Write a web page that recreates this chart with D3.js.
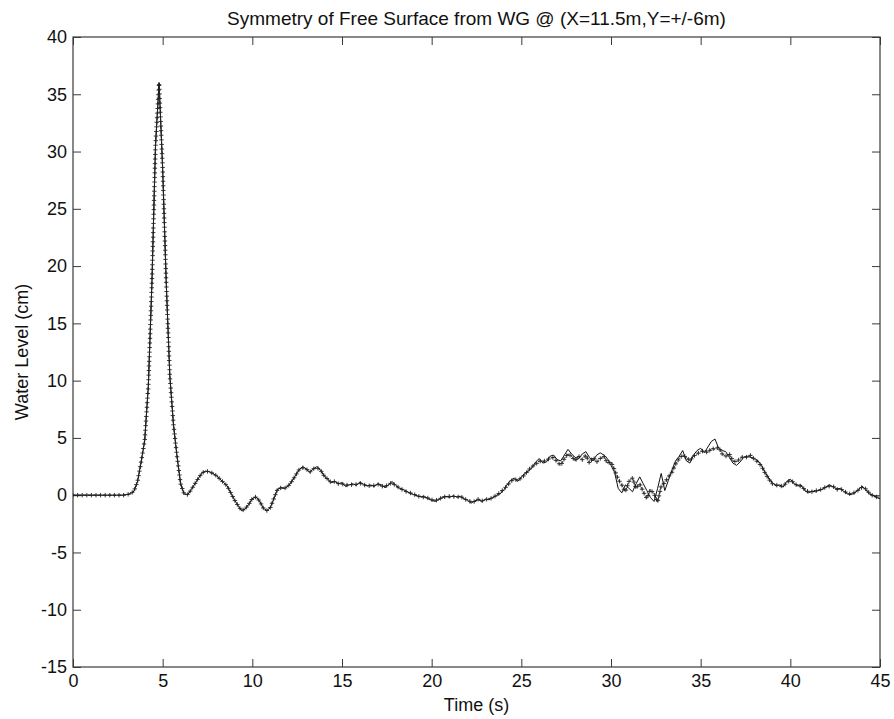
<!DOCTYPE html>
<html>
<head>
<meta charset="utf-8">
<script src="https://cdn.jsdelivr.net/npm/d3@7/dist/d3.min.js"></script>
<style>
  html, body { margin: 0; padding: 0; background: #fff; }
  svg { display: block; font-family: "Liberation Sans", Arial, Helvetica, sans-serif; }
</style>
</head>
<body>
<svg id="chart" width="894" height="719"></svg>
<script>
// Sampling instants (s), one every 0.2 s from 0 to 45
const timeStep = 0.2;
const sampleCount = 226;

// Water level (cm) at the gauge on the +Y side, drawn as a solid line
const gaugePlus = [
  // 0.0 – 4.8 s
  0, 0, 0, 0, 0, 0, 0, 0, 0, 0, 0, 0, 0, 0, 0,
  0.05, 0.12, 0.35, 1.2, 2.9, 4.8, 9.5, 18.5, 30.5, 36.0,
  // 5.0 – 9.8 s
  28.5, 18.5, 10.4, 6.2, 3.4, 1.0, 0.1, 0.05, 0.5, 1.0, 1.5, 1.95, 2.1,
  2.05, 1.9, 1.7, 1.4, 1.1, 0.8, 0.2, -0.4, -0.9, -1.35, -1.2, -0.8,
  // 10.0 – 14.8 s
  -0.3, -0.15, -0.5, -1.1, -1.35, -1.1, -0.3, 0.5, 0.65, 0.6, 0.8, 1.2, 1.7,
  2.2, 2.5, 2.3, 2.0, 2.3, 2.5, 2.2, 1.7, 1.4, 1.1, 1.2, 1.0,
  // 15.0 – 19.8 s
  1.1, 0.75, 0.9, 1.0, 0.85, 1.15, 0.95, 0.8, 0.9, 0.75, 1.0, 0.9, 0.65,
  0.9, 1.2, 0.85, 0.6, 0.5, 0.35, 0.15, 0.05, -0.05, -0.15, -0.1, -0.3,
  // 20.0 – 24.8 s
  -0.45, -0.55, -0.35, -0.2, -0.1, -0.2, -0.05, -0.15, -0.1, -0.3, -0.45, -0.7, -0.5,
  -0.4, -0.55, -0.35, -0.4, -0.2, -0.05, 0.1, 0.4, 0.9, 1.3, 1.5, 1.2,
  // 25.0 – 29.8 s
  1.6, 1.9, 2.1, 2.4, 2.9, 3.2, 2.8, 2.9, 3.4, 3.5, 3.1, 3.0, 3.5,
  4.0, 3.6, 3.3, 3.2, 3.6, 3.8, 3.3, 3.0, 3.5, 3.7, 3.5, 3.2,
  // 30.0 – 34.8 s
  2.6, 2.0, 0.6, 0.2, 0.9, 0.6, 0.3, 1.0, 1.6, 1.0, 0.4, -0.2, -0.55,
  0.6, 1.9, 0.4, 1.3, 2.2, 3.0, 3.4, 3.9, 3.0, 2.8, 3.5, 3.9,
  // 35.0 – 39.8 s
  4.1, 3.7, 4.2, 4.7, 4.9, 4.1, 3.9, 3.8, 3.3, 2.8, 2.6, 2.9, 3.3,
  3.4, 3.3, 3.2, 3.0, 2.6, 2.0, 1.5, 1.1, 0.8, 0.9, 0.7, 1.2,
  // 40.0 – 45.0 s
  1.4, 1.0, 0.85, 0.9, 0.4, 0.2, 0.35, 0.3, 0.45, 0.5, 0.75, 0.9, 0.7,
  0.55, 0.6, 0.3, 0.1, 0.05, 0.2, 0.5, 0.8, 0.5, 0.1, 0.0, -0.2, -0.3
];

// Water level (cm) at the gauge on the -Y side, drawn dashed with + markers
const gaugeMinus = [
  // 0.0 – 4.8 s
  0, 0, 0, 0, 0, 0, 0, 0, 0, 0, 0, 0, 0, 0, 0,
  0.05, 0.12, 0.35, 1.2, 2.9, 4.8, 9.5, 18.5, 30.5, 36.0,
  // 5.0 – 9.8 s
  28.5, 18.5, 10.4, 6.2, 3.4, 1.0, 0.1, 0.05, 0.5, 1.0, 1.5, 1.95, 2.1,
  2.05, 1.9, 1.7, 1.4, 1.1, 0.8, 0.2, -0.4, -0.9, -1.35, -1.2, -0.8,
  // 10.0 – 14.8 s
  -0.3, -0.15, -0.5, -1.1, -1.35, -1.1, -0.3, 0.5, 0.65, 0.6, 0.8, 1.2, 1.7,
  2.2, 2.4, 2.3, 2.0, 2.3, 2.4, 2.2, 1.7, 1.4, 1.1, 1.2, 1.0,
  // 15.0 – 19.8 s
  1.0, 0.85, 0.95, 0.9, 0.95, 1.05, 0.9, 0.85, 0.8, 0.85, 0.95, 0.8, 0.75,
  0.95, 1.1, 0.8, 0.65, 0.45, 0.3, 0.2, 0.1, -0.1, -0.1, -0.2, -0.25,
  // 20.0 – 24.8 s
  -0.4, -0.45, -0.4, -0.15, -0.15, -0.1, -0.1, -0.2, -0.05, -0.35, -0.4, -0.6, -0.55,
  -0.35, -0.5, -0.4, -0.3, -0.25, 0.0, 0.2, 0.5, 0.8, 1.2, 1.4, 1.3,
  // 25.0 – 29.8 s
  1.5, 1.8, 2.2, 2.5, 2.7, 3.0, 2.9, 3.1, 3.2, 3.3, 2.9, 2.6, 3.2,
  3.6, 3.4, 3.0, 3.4, 3.1, 3.5, 2.8, 3.3, 2.9, 3.2, 3.4, 2.8,
  // 30.0 – 34.8 s
  2.9, 2.2, 1.4, 0.9, 0.3, 1.2, 1.5, 0.6, 1.0, 0.3, -0.3, 0.5, 0.1,
  -0.6, 0.8, 1.1, 1.6, 2.0, 2.7, 3.2, 3.5, 3.3, 3.0, 3.4, 3.6,
  // 35.0 – 39.8 s
  3.8, 3.9, 3.7, 4.1, 4.0, 4.2, 3.6, 3.4, 3.6, 3.0, 2.9, 3.2, 3.4,
  3.3, 3.5, 3.1, 2.9, 2.5, 1.9, 1.4, 1.0, 0.9, 0.8, 0.8, 1.1,
  // 40.0 – 45.0 s
  1.3, 1.1, 0.8, 0.8, 0.5, 0.3, 0.3, 0.4, 0.4, 0.6, 0.7, 0.8, 0.75,
  0.5, 0.55, 0.35, 0.15, 0.1, 0.25, 0.45, 0.7, 0.55, 0.2, -0.05, -0.15, -0.3
];

const xTicks = [0, 5, 10, 15, 20, 25, 30, 35, 40, 45];
const yTicks = [-15, -10, -5, 0, 5, 10, 15, 20, 25, 30, 35, 40];

const titleText = "Symmetry of Free Surface from WG @ (X=11.5m,Y=+/-6m)";
const xLabel = "Time (s)";
const yLabel = "Water Level (cm)";

// ---- layout ----
const width = 894, height = 719;
const margin = { top: 37, right: 14, bottom: 52, left: 73 };
const innerW = width - margin.left - margin.right;
const innerH = height - margin.top - margin.bottom;

const svg = d3.select("#chart");
const g = svg.append("g").attr("transform", `translate(${margin.left},${margin.top})`);

const x = d3.scaleLinear().domain([0, 45]).range([0, innerW]);
const y = d3.scaleLinear().domain([-15, 40]).range([innerH, 0]);

const axisColor = "#3a3a3a";
const fontSize = 18;
const plainNumber = d => String(d);   // ASCII hyphen for negatives

function styleAxis(sel) {
  sel.select(".domain").remove();
  sel.selectAll(".tick line").attr("stroke", axisColor).attr("stroke-width", 1);
  sel.selectAll(".tick text").attr("fill", "#111").style("font-size", fontSize + "px");
}

// bottom axis with labels, ticks pointing inward
g.append("g")
  .attr("transform", `translate(0,${innerH})`)
  .call(d3.axisBottom(x).tickValues(xTicks).tickSizeInner(-8).tickSizeOuter(0).tickPadding(7).tickFormat(plainNumber))
  .call(styleAxis);
// top axis, ticks only
g.append("g")
  .call(d3.axisTop(x).tickValues(xTicks).tickSizeInner(-8).tickSizeOuter(0).tickFormat(""))
  .call(styleAxis);
// left axis with labels
g.append("g")
  .call(d3.axisLeft(y).tickValues(yTicks).tickSizeInner(-8).tickSizeOuter(0).tickPadding(6).tickFormat(plainNumber))
  .call(styleAxis);
// right axis, ticks only
g.append("g")
  .attr("transform", `translate(${innerW},0)`)
  .call(d3.axisRight(y).tickValues(yTicks).tickSizeInner(-8).tickSizeOuter(0).tickFormat(""))
  .call(styleAxis);

// plot frame
g.append("rect")
  .attr("x", 0).attr("y", 0).attr("width", innerW).attr("height", innerH)
  .attr("fill", "none").attr("stroke", axisColor).attr("stroke-width", 1.2);

// ---- series ----
const times = d3.range(sampleCount).map(i => +(i * timeStep).toFixed(1));
const ptsPlus = times.map((t, i) => [t, gaugePlus[i]]);
const ptsMinus = times.map((t, i) => [t, gaugeMinus[i]]);

const line = d3.line().x(d => x(d[0])).y(d => y(d[1]));

g.append("clipPath").attr("id", "plotclip")
  .append("rect").attr("width", innerW).attr("height", innerH);
const plot = g.append("g").attr("clip-path", "url(#plotclip)");

const dashedPath = plot.append("path")
  .datum(ptsMinus)
  .attr("d", line)
  .attr("fill", "none")
  .attr("stroke", "#222")
  .attr("stroke-width", 0.9)
  .attr("stroke-dasharray", "3,2");

plot.append("path")
  .datum(ptsPlus)
  .attr("d", line)
  .attr("fill", "none")
  .attr("stroke", "#111")
  .attr("stroke-width", 1);

// + markers spaced evenly along the dashed series
const node = dashedPath.node();
const total = node.getTotalLength();
const spacing = 4.6;
const arm = 2.2;
let markerD = "";
for (let L = 0; L <= total; L += spacing) {
  const p = node.getPointAtLength(L);
  markerD += `M${(p.x - arm).toFixed(2)},${p.y.toFixed(2)}h${2 * arm}` +
             `M${p.x.toFixed(2)},${(p.y - arm).toFixed(2)}v${2 * arm}`;
}
plot.append("path")
  .attr("d", markerD)
  .attr("fill", "none")
  .attr("stroke", "#222")
  .attr("stroke-width", 0.9);

// ---- texts ----
svg.append("text")
  .attr("x", margin.left + innerW / 2)
  .attr("y", 25)
  .attr("text-anchor", "middle")
  .attr("fill", "#111")
  .style("font-size", "19px")
  .text(titleText);

svg.append("text")
  .attr("x", margin.left + innerW / 2)
  .attr("y", height - 8)
  .attr("text-anchor", "middle")
  .attr("fill", "#111")
  .style("font-size", "18px")
  .text(xLabel);

svg.append("text")
  .attr("transform", `translate(28,${margin.top + innerH / 2}) rotate(-90)`)
  .attr("text-anchor", "middle")
  .attr("fill", "#111")
  .style("font-size", "18px")
  .text(yLabel);
</script>
</body>
</html>
